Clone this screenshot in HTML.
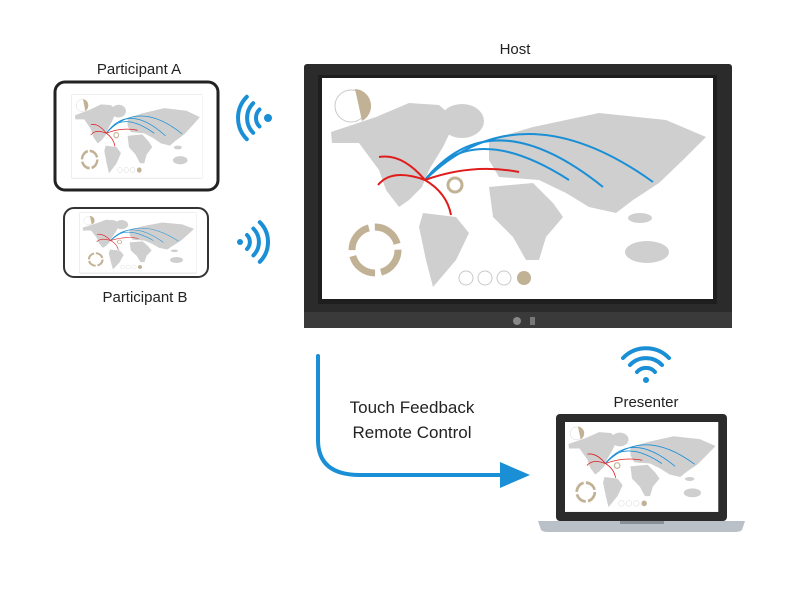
<!DOCTYPE html>
<html><head><meta charset="utf-8"><style>
body{margin:0;background:#fff;width:800px;height:585px;overflow:hidden;font-family:"Liberation Sans",sans-serif}
</style></head><body>
<svg width="800" height="585" viewBox="0 0 800 585" xmlns="http://www.w3.org/2000/svg">
<defs>
<g id="map">
<rect x="0" y="0" width="391" height="221" fill="#fff"/>
<g fill="#cfcfcf">
<polygon points="9,54 54,39 87,25 117,27 134,42 121,69 107,92 100,109 87,122 77,129 64,112 57,92 37,65 10,65"/>
<ellipse cx="140" cy="43" rx="22" ry="17"/>
<polygon points="101,135 134,139 147,155 134,182 117,202 111,209 104,182 97,149"/>
<polygon points="167,62 211,49 277,35 344,42 384,59 361,82 337,105 311,122 294,135 267,129 244,115 217,102 177,99 167,82"/>
<polygon points="167,109 211,105 231,125 241,139 224,159 217,182 204,182 191,159 171,139"/>
<ellipse cx="325" cy="174" rx="22" ry="11"/>
<ellipse cx="318" cy="140" rx="12" ry="5"/>
</g>
<circle cx="29" cy="28" r="16" fill="none" stroke="#c9c9c9" stroke-width="1"/>
<path d="M33,11 A17,17 0 0 1 40,43 Z" fill="#c2b295"/>
<circle cx="53" cy="172" r="23" fill="none" stroke="#c2b295" stroke-width="7" stroke-dasharray="30 6"/>
<g fill="none" stroke="#c9c9c9"><circle cx="144" cy="200" r="7"/><circle cx="163" cy="200" r="7"/><circle cx="182" cy="200" r="7"/></g>
<circle cx="202" cy="200" r="7" fill="#c2b295"/>
<circle cx="133" cy="107" r="7" fill="none" stroke="#c2b295" stroke-width="3"/>
<g fill="none" stroke="#1a8fd6" stroke-width="2">
<path d="M103,102 Q150,40 247,102"/><path d="M104,101 Q170,20 281,109"/><path d="M105,100 Q200,10 331,104"/>
</g>
<g fill="none" stroke="#e01d1d" stroke-width="2">
<path d="M103,102 Q80,75 57,79"/><path d="M103,102 Q70,90 56,107"/><path d="M103,102 Q150,85 197,94"/><path d="M103,102 Q125,115 129,137"/>
</g>
</g>
</defs>

<text x="515" y="54" font-size="15" text-anchor="middle" fill="#222">Host</text>
<rect x="304" y="64" width="428" height="264" rx="3" fill="#2b2b2b"/>
<rect x="304" y="312" width="428" height="16" fill="#3a3a3a"/>
<rect x="318" y="75" width="399" height="229" fill="#1e1e1e"/>
<use href="#map" x="322" y="78"/>
<circle cx="517" cy="321" r="4" fill="#888"/>
<rect x="530" y="317" width="5" height="8" fill="#777"/>

<text x="139" y="74" font-size="15" text-anchor="middle" fill="#222">Participant A</text>
<rect x="55" y="82" width="163" height="108" rx="10" fill="#fff" stroke="#222" stroke-width="3"/>
<rect x="72" y="95" width="130" height="83" fill="#fff" stroke="#ddd" stroke-width="1"/>
<use href="#map" transform="translate(72,95) scale(0.333,0.375)"/>

<rect x="64" y="208" width="144" height="69" rx="10" fill="#fff" stroke="#333" stroke-width="2"/>
<rect x="80" y="213" width="116" height="60" fill="#fff" stroke="#ddd"/>
<use href="#map" transform="translate(80,213) scale(0.297,0.27)"/>
<text x="145" y="302" font-size="15" text-anchor="middle" fill="#222">Participant B</text>

<g fill="none" stroke="#1a8fd6" stroke-width="4" stroke-linecap="round">
<circle cx="268" cy="118" r="4" fill="#1a8fd6" stroke="none"/>
<path d="M259.5,109.5 A12,12 0 0 0 259.5,126.5"/>
<path d="M253.2,103.2 A21,21 0 0 0 253.2,132.8"/>
<path d="M246.8,96.8 A30,30 0 0 0 246.8,139.2"/>
<circle cx="240" cy="242" r="3" fill="#1a8fd6" stroke="none"/>
<path d="M247,235 A10,10 0 0 1 247,249"/>
<path d="M253.4,228.6 A19,19 0 0 1 253.4,255.4"/>
<path d="M259.8,222.2 A28,28 0 0 1 259.8,261.8"/>
<circle cx="646" cy="380" r="3" fill="#1a8fd6" stroke="none"/>
<path d="M637,372 A12,12 0 0 1 655,372"/>
<path d="M630,365 A22,22 0 0 1 662,365"/>
<path d="M623,358 A32,32 0 0 1 669,358"/>
<path d="M318,356 L318,440 Q318,475 360,475 L505,475" stroke-width="4"/>
</g>
<polygon points="530,475 500,462 500,488" fill="#1a8fd6"/>
<text x="412" y="413" font-size="17" text-anchor="middle" fill="#222">Touch Feedback</text>
<text x="412" y="438" font-size="17" text-anchor="middle" fill="#222">Remote Control</text>

<text x="646" y="407" font-size="15" text-anchor="middle" fill="#222">Presenter</text>
<rect x="556" y="414" width="171" height="107" rx="4" fill="#2b2b2b"/>
<use href="#map" transform="translate(565,422) scale(0.392,0.407)"/>
<path d="M538,521 L745,521 L742,530 Q740,532 735,532 L548,532 Q543,532 541,530 Z" fill="#b9c0c8"/>
<rect x="620" y="521" width="44" height="3" fill="#8a9098"/>
</svg>
</body></html>
